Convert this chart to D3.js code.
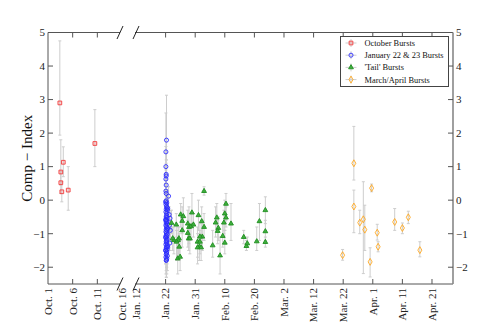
<!DOCTYPE html>
<html>
<head>
<meta charset="utf-8">
<script src="https://cdn.jsdelivr.net/npm/d3@7"></script>
<style>
  body { margin: 0; background: #fff; }
  svg { display: block; font-family: "Liberation Serif", "DejaVu Serif", serif; }
</style>
</head>
<body>
<svg id="chart" width="487" height="327"></svg>
<script>
// left panel: days after Oct 1, right panel: days after Jan 12
var leftTicks = [0, 5, 10, 15],
  leftLabels = ['Oct. 1', 'Oct. 6', 'Oct. 11', 'Oct. 16'],
  rightTicks = [0, 10, 20, 30, 40, 50, 60, 70, 80, 90, 100],
  rightLabels = ['Jan. 12', 'Jan. 22', 'Jan. 31', 'Feb. 10', 'Feb. 20', 'Mar. 2', 'Mar. 12', 'Mar. 22', 'Apr. 1', 'Apr. 11', 'Apr. 21'],
  yTicks = [-2, -1, 0, 1, 2, 3, 4, 5];

// [day, value, errLow, errHigh]
var octBursts = [
  [2.4, 2.9, 1.94, 4.75], [2.6, 0.84, 0.45, 1.8], [3.1, 1.13, 0.7, 1.59],
  [2.6, 0.52, 0.2, 0.85], [2.8, 0.25, -0.05, 0.55], [4.1, 0.3, -0.3, 1.0],
  [9.5, 1.69, 1.0, 2.7]
];
var janBursts = [
  [10.3, 1.79, 1.2, 3.13], [10.1, 1.44, 0.9, 2.6], [10.1, 1.0, 0.5, 1.6], [10.2, 0.77, 0.3, 1.2],
  [10.2, 0.72, 0.3, 1.1], [10.1, 0.63, 0.2, 1.0], [10.2, 0.45, 0.1, 0.8], [10.1, 0.27, -0.1, 0.6],
  [10.2, 0.2, -0.1, 0.5], [11.0, 0.12, -0.2, 0.4], [10.2, -0.02, -0.3, 0.3], [10.4, -0.08, -0.4, 0.2],
  [10.1, -0.12, -0.5, 0.25], [10.3, -0.18, -0.5, 0.1], [10.5, -0.22, -0.6, 0.15], [10.2, -0.27, -0.6, 0.05],
  [10.6, -0.3, -0.7, 0.1], [10.1, -0.35, -0.7, 0.0], [10.4, -0.4, -0.8, -0.05], [11.2, -0.43, -0.7, -0.2],
  [10.3, -0.46, -0.8, -0.1], [10.2, -0.5, -0.9, -0.15], [10.5, -0.53, -0.9, -0.2], [10.1, -0.57, -1.0, -0.2],
  [11.5, -0.54, -0.8, -0.3], [10.3, -0.6, -1.0, -0.25], [10.4, -0.64, -1.0, -0.3], [10.2, -0.68, -1.1, -0.3],
  [10.6, -0.71, -1.1, -0.35], [11.3, -0.75, -1.0, -0.5], [10.1, -0.75, -1.2, -0.35], [10.3, -0.79, -1.2, -0.4],
  [10.5, -0.83, -1.2, -0.45], [10.2, -0.87, -1.3, -0.5], [11.6, -0.9, -1.2, -0.6], [10.4, -0.9, -1.3, -0.5],
  [10.1, -0.94, -1.3, -0.55], [10.3, -0.98, -1.4, -0.6], [10.6, -1.02, -1.4, -0.65], [10.2, -1.05, -1.5, -0.7],
  [10.4, -1.09, -1.5, -0.7], [10.1, -1.13, -1.5, -0.75], [10.5, -1.16, -1.6, -0.8], [10.3, -1.2, -1.6, -0.8],
  [11.4, -1.28, -1.5, -1.0], [10.2, -1.24, -1.6, -0.85], [10.4, -1.28, -1.7, -0.9], [10.1, -1.32, -1.7, -0.95],
  [10.6, -1.35, -1.7, -1.0], [10.3, -1.39, -1.8, -1.0], [10.2, -1.43, -1.8, -1.05], [10.5, -1.47, -1.9, -1.1],
  [10.1, -1.5, -1.9, -1.1], [10.4, -1.54, -2.0, -1.15], [10.3, -1.58, -2.0, -1.2], [10.2, -1.62, -2.1, -1.2],
  [10.6, -1.66, -2.1, -1.25], [10.1, -1.7, -2.2, -1.3], [10.4, -1.74, -2.2, -1.35], [10.3, -1.78, -2.3, -1.4],
  [10.2, -1.8, -2.3, -1.4], [10.0, -0.05, -0.4, 0.3], [10.0, -0.6, -1.0, -0.2], [10.0, -1.1, -1.5, -0.7],
  [10.0, -1.5, -1.9, -1.1], [10.7, -0.25, -0.5, 0.0], [10.7, -1.4, -1.7, -1.1], [10.8, -0.85, -1.1, -0.6]
];
var tailBursts = [
  [23.0, 0.27, 0.15, 0.4], [15.1, -0.43, -0.8, -0.1], [16.0, -0.48, -0.9, 0.07], [15.6, -0.62, -1.0, -0.2],
  [13.6, -0.73, -1.1, -0.4], [15.6, -0.9, -1.4, -0.5], [18.9, -0.37, -0.8, 0.2], [21.1, -0.45, -0.9, 0.0],
  [22.2, -0.63, -1.1, -0.2], [17.5, -0.7, -1.2, -0.3], [17.9, -0.8, -1.3, -0.2], [18.6, -0.78, -1.2, -0.4],
  [19.4, -0.73, -1.1, -0.4], [17.5, -0.98, -1.4, -0.6], [17.8, -1.14, -1.5, -0.7], [18.2, -1.14, -1.6, -0.8],
  [14.5, -1.14, -1.6, -0.8], [14.2, -1.19, -1.7, -0.8], [13.7, -1.24, -1.8, -0.9], [12.8, -1.19, -1.6, -0.8],
  [12.4, -1.14, -1.5, -0.8], [14.6, -1.39, -1.8, -1.0], [14.1, -1.74, -2.2, -1.3], [14.9, -1.69, -2.1, -1.2],
  [20.8, -1.24, -1.7, -0.8], [21.6, -1.24, -1.6, -0.9], [21.4, -1.39, -1.8, -1.0], [20.8, -1.41, -1.9, -1.0],
  [22.0, -1.41, -1.8, -1.1], [22.4, -1.09, -1.5, -0.6], [21.6, -1.09, -1.4, -0.7], [23.0, -0.8, -1.2, -0.4],
  [25.9, -1.35, -1.7, -0.9], [26.9, -0.67, -1.1, -0.2], [27.3, -0.52, -0.9, -0.1], [27.8, -0.83, -1.2, -0.5],
  [27.6, -0.92, -1.3, -0.6], [28.4, -1.65, -2.2, -1.1], [29.3, -1.07, -1.4, -0.7], [29.7, -0.67, -1.0, -0.3],
  [30.0, -0.4, -0.9, 0.0], [30.4, -0.52, -0.8, -0.2], [30.4, -0.11, -0.6, 0.2], [30.0, -1.27, -1.6, -0.9],
  [32.1, -0.7, -1.2, -0.1], [36.4, -1.1, -1.3, -0.9], [37.3, -1.37, -1.5, -1.2], [37.6, -1.29, -1.4, -1.1],
  [40.8, -1.23, -1.5, -0.8], [41.7, -0.63, -1.2, -0.1], [43.7, -0.3, -0.7, 0.1], [43.7, -0.93, -1.2, -0.6],
  [43.7, -1.25, -1.4, -1.1], [12.0, -0.68, -1.0, -0.3]
];
var marAprBursts = [
  [69.8, -1.64, -1.79, -1.47], [73.6, 1.1, 0.6, 2.2], [73.6, -0.19, -0.97, 0.3], [75.6, -0.67, -1.0, -0.3],
  [76.8, -0.57, -2.19, 0.55], [77.3, -0.88, -1.5, -0.15], [79.1, -1.84, -2.29, -1.42], [79.6, 0.36, 0.25, 0.48],
  [81.5, -0.97, -1.19, -0.72], [81.8, -1.39, -1.54, -1.24], [87.4, -0.65, -0.9, -0.25], [90.0, -0.83, -1.0, -0.68],
  [92.0, -0.51, -0.7, -0.33], [95.9, -1.49, -1.69, -1.24]
];

var series = [
  {name: 'October Bursts', data: octBursts, panel: 'left', sym: d3.symbolSquare, size: 14, stroke: '#f03c3c', fill: 'rgba(255,120,120,0.25)'},
  {name: 'January 22 & 23 Bursts', data: janBursts, panel: 'right', sym: d3.symbolCircle, size: 13, stroke: '#2b2bff', fill: 'none'},
  {name: "'Tail' Bursts", data: tailBursts, panel: 'right', sym: d3.symbolTriangle, size: 10, stroke: '#1f8f1f', fill: '#3fae3f'},
  {name: 'March/April Bursts', data: marAprBursts, panel: 'right', sym: d3.symbolDiamond, size: 14, stroke: '#ffa820', fill: 'none'}
];

var svg = d3.select('#chart'),
  top_y = 32.5, bottom_y = 284, left_x = 48, right_x = 453,
  breakL = 120, breakR = 136;

var xLeft = d3.scaleLinear().domain([0, 15]).range([left_x, 122]),
  xRight = d3.scaleLinear().domain([0, 107.1]).range([breakR, right_x]),
  y = d3.scaleLinear().domain([-2.5, 5]).range([bottom_y, top_y]);

svg.append('rect').attr('width', 487).attr('height', 327).attr('fill', '#fff');

// error bars first, markers on top
series.forEach(function (s) {
  var xs = s.panel == 'left' ? xLeft : xRight;
  var g = svg.append('g').attr('class', 'err');
  s.data.forEach(function (d) {
    var x = xs(d[0]);
    g.append('line').attr('x1', x).attr('x2', x).attr('y1', y(d[2])).attr('y2', y(d[3]));
    g.append('line').attr('x1', x - 1.5).attr('x2', x + 1.5).attr('y1', y(d[2])).attr('y2', y(d[2]));
    g.append('line').attr('x1', x - 1.5).attr('x2', x + 1.5).attr('y1', y(d[3])).attr('y2', y(d[3]));
  });
});
svg.selectAll('g.err line').attr('stroke', '#cdcdcd').attr('stroke-width', 1);

series.forEach(function (s) {
  var xs = s.panel == 'left' ? xLeft : xRight;
  svg.append('g').selectAll('path').data(s.data).enter().append('path')
    .attr('d', d3.symbol().type(s.sym).size(s.size))
    .attr('transform', function (d) { return 'translate(' + xs(d[0]) + ',' + y(d[1]) + ')'; })
    .attr('fill', s.fill).attr('stroke', s.stroke).attr('stroke-width', 0.9);
});

// frame with broken x axis
var axisColor = '#555';
var frame = svg.append('g').attr('stroke', axisColor).attr('stroke-width', 1).attr('fill', 'none');
[top_y, bottom_y].forEach(function (yy) {
  frame.append('line').attr('x1', left_x).attr('x2', breakL).attr('y1', yy).attr('y2', yy);
  frame.append('line').attr('x1', breakR - 1).attr('x2', right_x).attr('y1', yy).attr('y2', yy);
  [breakL, breakR].forEach(function (bx) {
    frame.append('line').attr('x1', bx - 3).attr('x2', bx + 3).attr('y1', yy + 6.5).attr('y2', yy - 6.5).attr('stroke', '#222');
  });
});
frame.append('line').attr('x1', left_x).attr('x2', left_x).attr('y1', top_y).attr('y2', bottom_y);
frame.append('line').attr('x1', right_x).attr('x2', right_x).attr('y1', top_y).attr('y2', bottom_y).attr('stroke', '#888').attr('stroke-width', 1.6);

// x ticks (inward, top and bottom) and rotated labels
var xTickPos = [];
leftTicks.forEach(function (t, i) { xTickPos.push({x: xLeft(t), label: leftLabels[i], mark: t > 0 && t < 15}); });
rightTicks.forEach(function (t, i) { xTickPos.push({x: xRight(t), label: rightLabels[i], mark: t > 0}); });

xTickPos.forEach(function (t) {
  if (t.mark) {
    frame.append('line').attr('x1', t.x).attr('x2', t.x).attr('y1', bottom_y).attr('y2', bottom_y - 5);
    frame.append('line').attr('x1', t.x).attr('x2', t.x).attr('y1', top_y).attr('y2', top_y + 5);
  }
  svg.append('text')
    .attr('transform', 'translate(' + t.x + ',' + (bottom_y + 4) + ') rotate(-90)')
    .attr('dy', '0.35em').attr('text-anchor', 'end')
    .attr('font-size', 11).attr('fill', '#222')
    .text(t.label);
});

// y ticks both sides
yTicks.forEach(function (v) {
  var yy = y(v);
  if (v < 5) {
    frame.append('line').attr('x1', left_x).attr('x2', left_x + 5).attr('y1', yy).attr('y2', yy);
    frame.append('line').attr('x1', right_x).attr('x2', right_x - 5).attr('y1', yy).attr('y2', yy);
  }
  var lbl = v < 0 ? '\u2212' + Math.abs(v) : String(v);
  svg.append('text').attr('x', left_x - 3).attr('y', yy).attr('dy', '0.35em')
    .attr('text-anchor', 'end').attr('font-size', 11).attr('fill', '#222').text(lbl);
  svg.append('text').attr('x', right_x + 3).attr('y', yy).attr('dy', '0.35em')
    .attr('text-anchor', 'start').attr('font-size', 11).attr('fill', '#222').text(lbl);
});

svg.append('text')
  .attr('transform', 'translate(27,' + ((top_y + bottom_y) / 2) + ') rotate(-90)')
  .attr('text-anchor', 'middle').attr('dy', '0.35em')
  .attr('font-size', 15).attr('fill', '#111')
  .text('Comp \u2212 Index');

// legend
var lg = svg.append('g').attr('transform', 'translate(340.5,36.5)');
lg.append('rect').attr('width', 108).attr('height', 50).attr('fill', '#fff').attr('stroke', '#444').attr('stroke-width', 1);
series.forEach(function (s, i) {
  var yy = 6.5 + i * 12.2;
  lg.append('line').attr('x1', 5).attr('x2', 16).attr('y1', yy).attr('y2', yy).attr('stroke', '#cdcdcd');
  lg.append('line').attr('x1', 10.5).attr('x2', 10.5).attr('y1', yy - 4).attr('y2', yy + 4).attr('stroke', '#cdcdcd');
  lg.append('path').attr('d', d3.symbol().type(s.sym).size(s.size))
    .attr('transform', 'translate(10.5,' + yy + ')')
    .attr('fill', s.fill).attr('stroke', s.stroke).attr('stroke-width', 0.9);
  lg.append('text').attr('x', 24).attr('y', yy).attr('dy', '0.35em')
    .attr('font-size', 8.4).attr('fill', '#111').text(s.name);
});
</script>
</body>
</html>
